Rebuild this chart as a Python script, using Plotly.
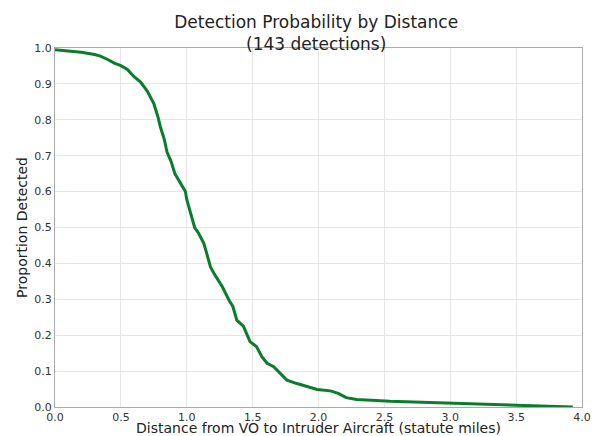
import plotly.graph_objects as go

distance_miles = [0.0, 0.1, 0.2, 0.3, 0.34, 0.4, 0.45, 0.5, 0.55, 0.6, 0.65, 0.7, 0.75,
                  0.78, 0.8, 0.83, 0.85, 0.88, 0.91, 0.95, 0.99, 1.0, 1.03, 1.06, 1.09,
                  1.13, 1.15, 1.18, 1.21, 1.27, 1.32, 1.35, 1.38, 1.43, 1.48, 1.53, 1.57,
                  1.61, 1.66, 1.71, 1.76, 1.83, 1.91, 1.99, 2.09, 2.15, 2.21, 2.29, 2.44,
                  2.54, 2.97, 3.23, 3.5, 3.93]
proportion_detected = [0.995, 0.992, 0.988, 0.982, 0.978, 0.968, 0.958, 0.951, 0.94, 0.92,
                       0.905, 0.88, 0.845, 0.81, 0.78, 0.745, 0.71, 0.685, 0.65, 0.625, 0.6,
                       0.578, 0.54, 0.5, 0.484, 0.455, 0.43, 0.39, 0.37, 0.335, 0.298, 0.28,
                       0.242, 0.225, 0.182, 0.168, 0.14, 0.122, 0.112, 0.094, 0.075, 0.066,
                       0.058, 0.049, 0.045, 0.038, 0.026, 0.021, 0.018, 0.016, 0.011, 0.008,
                       0.006, 0.0]

title_text = "Detection Probability by Distance<br>(143 detections)"
x_title = "Distance from VO to Intruder Aircraft (statute miles)"
y_title = "Proportion Detected"

FONT = "DejaVu Sans"

fig = go.Figure()
fig.add_trace(go.Scatter(
    x=distance_miles, y=proportion_detected, mode="lines",
    line=dict(color="#0a7d2c", width=3), showlegend=False,
))

fig.update_layout(
    width=600, height=436,
    margin=dict(l=55, r=18, t=48, b=29),
    paper_bgcolor="white", plot_bgcolor="white",
    font=dict(family=FONT, color="#333333"),
    title=dict(text=title_text, x=0.527, xanchor="center", yref="container",
               y=1 - 28 / 436, yanchor="top",
               font=dict(family=FONT, size=17, color="#222222")),
)
fig.update_xaxes(
    range=[0, 4], dtick=0.5, tick0=0, tickformat=".1f",
    showgrid=True, gridcolor="#e6e6e6", gridwidth=1,
    showline=True, linecolor="#aaaaaa", linewidth=1.2, mirror=True,
    ticks="", zeroline=False,
    tickfont=dict(family=FONT, size=11, color="#333333"),
    title=dict(text=x_title, standoff=4, font=dict(family=FONT, size=14, color="#222222")),
    automargin=False,
)
fig.update_yaxes(
    range=[0, 1], dtick=0.1, tick0=0, tickformat=".1f",
    showgrid=True, gridcolor="#e6e6e6", gridwidth=1,
    showline=True, linecolor="#aaaaaa", linewidth=1.2, mirror=True,
    ticks="", zeroline=False,
    tickfont=dict(family=FONT, size=11, color="#333333"),
    title=dict(text=y_title, standoff=3, font=dict(family=FONT, size=14, color="#222222")),
    automargin=False,
)

fig.write_html("out.html", config={"displayModeBar": False},
               post_script="document.body.style.margin='0px';")
